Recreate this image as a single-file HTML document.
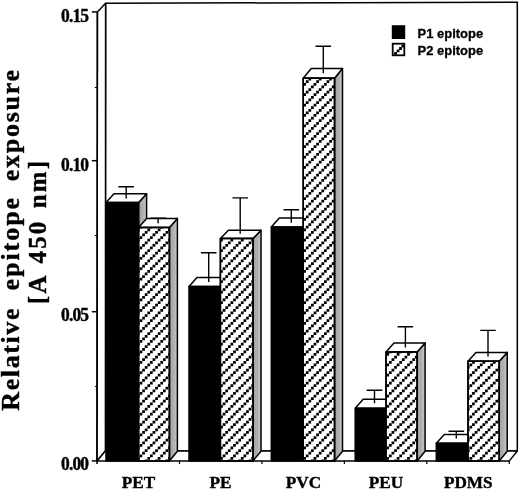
<!DOCTYPE html>
<html><head><meta charset="utf-8"><title>Relative epitope exposure</title>
<style>html,body{margin:0;padding:0;background:#fff}body{width:520px;height:490px;overflow:hidden}svg{display:block}.s{font-family:"Liberation Serif",serif;font-weight:bold;fill:#000;stroke:#000;stroke-width:0.4px;stroke-linejoin:round}.h{font-family:"Liberation Sans",sans-serif;font-weight:bold;fill:#000;stroke:#000;stroke-width:0.3px}</style></head><body>
<svg width="520" height="490" viewBox="0 0 520 490">
<defs><clipPath id="hc">
<rect x="138.6" y="227.4" width="30.8" height="233.5"/>
<rect x="220.4" y="238.6" width="32.6" height="222.3"/>
<rect x="303.2" y="78.2" width="31.3" height="382.7"/>
<rect x="386.0" y="352.0" width="31.1" height="108.9"/>
<rect x="468.0" y="361.2" width="31.2" height="99.7"/>
</clipPath><linearGradient id="sg" x1="0" y1="0" x2="1" y2="0"><stop offset="0" stop-color="#a2a2a2"/><stop offset="0.55" stop-color="#b0b0b0"/><stop offset="1" stop-color="#cacaca"/></linearGradient></defs>
<rect width="520" height="490" fill="#fff"/>
<g fill="none" stroke="#000" stroke-width="1.5" stroke-linejoin="round">
<path d="M105.4 451.0 L105.6 3.2 L517.3 2.3 L517.3 451.0 Z" fill="#fff"/>
<path d="M97.4 11.9 L105.6 3.2 L105.4 451.0 L97.0 460.9 Z" fill="#fff"/>
<path d="M97.0 460.9 L105.4 451.0 L517.3 451.0 L509.3 460.9 Z" fill="#fff"/>
<path d="M97.4 11.9 L97.0 464.1"/>
<path d="M179.5 460.9 V464.1" stroke-width="1.2"/>
<path d="M261.9 460.9 V464.1" stroke-width="1.2"/>
<path d="M344.4 460.9 V464.1" stroke-width="1.2"/>
<path d="M426.8 460.9 V464.1" stroke-width="1.2"/>
<path d="M509.3 460.9 V464.1" stroke-width="1.2"/>
<path d="M91.8 460.9 H97.0"/>
<path d="M91.8 311.7 H97.0"/>
<path d="M91.8 160.7 H97.0"/>
<path d="M91.8 11.9 H97.0"/>
<path d="M94.8 386.4 H97.0" stroke-width="1"/>
<path d="M94.8 235.5 H97.0" stroke-width="1"/>
<path d="M94.8 87.5 H97.0" stroke-width="1"/>
<path d="M138.6 202.6 L146.6 193.8 L146.6 451.3 L138.6 460.9 Z" fill="url(#sg)"/>
<path d="M106.0 202.6 L114.0 193.8 L146.6 193.8 L138.6 202.6 Z" fill="#fff"/>
<rect x="106.0" y="202.6" width="32.6" height="258.3" fill="#000"/>
<path d="M169.4 227.4 L177.4 218.4 L177.4 451.3 L169.4 460.9 Z" fill="url(#sg)"/>
<path d="M138.6 227.4 L146.6 218.4 L177.4 218.4 L169.4 227.4 Z" fill="#fff"/>
<rect x="138.6" y="227.4" width="30.8" height="233.5" fill="#fff"/>
<path d="M220.4 286.6 L228.4 277.6 L228.4 451.3 L220.4 460.9 Z" fill="url(#sg)"/>
<path d="M189.0 286.6 L197.0 277.6 L228.4 277.6 L220.4 286.6 Z" fill="#fff"/>
<rect x="189.0" y="286.6" width="31.4" height="174.3" fill="#000"/>
<path d="M253.0 238.6 L261.0 230.2 L261.0 451.3 L253.0 460.9 Z" fill="url(#sg)"/>
<path d="M220.4 238.6 L228.4 230.2 L261.0 230.2 L253.0 238.6 Z" fill="#fff"/>
<rect x="220.4" y="238.6" width="32.6" height="222.3" fill="#fff"/>
<path d="M303.2 226.9 L311.2 217.9 L311.2 451.3 L303.2 460.9 Z" fill="url(#sg)"/>
<path d="M271.3 226.9 L279.3 217.9 L311.2 217.9 L303.2 226.9 Z" fill="#fff"/>
<rect x="271.3" y="226.9" width="31.9" height="234.0" fill="#000"/>
<path d="M334.5 78.2 L342.5 68.5 L342.5 451.3 L334.5 460.9 Z" fill="url(#sg)"/>
<path d="M303.2 78.2 L311.2 68.5 L342.5 68.5 L334.5 78.2 Z" fill="#fff"/>
<rect x="303.2" y="78.2" width="31.3" height="382.7" fill="#fff"/>
<path d="M386.0 408.2 L394.0 399.2 L394.0 451.3 L386.0 460.9 Z" fill="url(#sg)"/>
<path d="M355.2 408.2 L363.2 399.2 L394.0 399.2 L386.0 408.2 Z" fill="#fff"/>
<rect x="355.2" y="408.2" width="30.8" height="52.7" fill="#000"/>
<path d="M417.1 352.0 L425.1 343.0 L425.1 451.3 L417.1 460.9 Z" fill="url(#sg)"/>
<path d="M386.0 352.0 L394.0 343.0 L425.1 343.0 L417.1 352.0 Z" fill="#fff"/>
<rect x="386.0" y="352.0" width="31.1" height="108.9" fill="#fff"/>
<path d="M468.0 443.3 L476.0 434.6 L476.0 451.3 L468.0 460.9 Z" fill="url(#sg)"/>
<path d="M436.3 443.3 L444.3 434.6 L476.0 434.6 L468.0 443.3 Z" fill="#fff"/>
<rect x="436.3" y="443.3" width="31.7" height="17.6" fill="#000"/>
<path d="M499.2 361.2 L507.2 352.4 L507.2 451.3 L499.2 460.9 Z" fill="url(#sg)"/>
<path d="M468.0 361.2 L476.0 352.4 L507.2 352.4 L499.2 361.2 Z" fill="#fff"/>
<rect x="468.0" y="361.2" width="31.2" height="99.7" fill="#fff"/>
<path clip-path="url(#hc)" d="M95.42 63.54H505M95.42 73.93H505M95.42 84.32H505M95.42 94.71H505M95.42 105.10H505M95.42 115.49H505M95.42 125.88H505M95.42 136.27H505M95.42 146.66H505M95.42 157.05H505M95.42 167.44H505M95.42 177.83H505M95.42 188.22H505M95.42 198.61H505M95.42 209.00H505M95.42 219.39H505M95.42 229.78H505M95.42 240.17H505M95.42 250.56H505M95.42 260.95H505M95.42 271.34H505M95.42 281.73H505M95.42 292.12H505M95.42 302.51H505M95.42 312.90H505M95.42 323.29H505M95.42 333.68H505M95.42 344.07H505M95.42 354.46H505M95.42 364.85H505M95.42 375.24H505M95.42 385.63H505M95.42 396.02H505M95.42 406.41H505M95.42 416.80H505M95.42 427.19H505M95.42 437.58H505M95.42 447.97H505M95.42 458.36H505M95.42 468.75H505" stroke-width="2.75" stroke-dasharray="2.750 7.640"/>
<path clip-path="url(#hc)" d="M92.83 66.14H505M92.83 76.53H505M92.83 86.92H505M92.83 97.31H505M92.83 107.70H505M92.83 118.09H505M92.83 128.48H505M92.83 138.87H505M92.83 149.26H505M92.83 159.65H505M92.83 170.04H505M92.83 180.43H505M92.83 190.82H505M92.83 201.21H505M92.83 211.60H505M92.83 221.99H505M92.83 232.38H505M92.83 242.77H505M92.83 253.16H505M92.83 263.55H505M92.83 273.94H505M92.83 284.33H505M92.83 294.72H505M92.83 305.11H505M92.83 315.50H505M92.83 325.89H505M92.83 336.28H505M92.83 346.67H505M92.83 357.06H505M92.83 367.45H505M92.83 377.84H505M92.83 388.23H505M92.83 398.62H505M92.83 409.01H505M92.83 419.40H505M92.83 429.79H505M92.83 440.18H505M92.83 450.57H505M92.83 460.96H505M92.83 471.35H505" stroke-width="2.75" stroke-dasharray="2.750 7.640"/>
<path clip-path="url(#hc)" d="M90.23 68.73H505M90.23 79.12H505M90.23 89.51H505M90.23 99.90H505M90.23 110.29H505M90.23 120.68H505M90.23 131.07H505M90.23 141.46H505M90.23 151.85H505M90.23 162.24H505M90.23 172.63H505M90.23 183.02H505M90.23 193.41H505M90.23 203.80H505M90.23 214.19H505M90.23 224.58H505M90.23 234.97H505M90.23 245.36H505M90.23 255.75H505M90.23 266.14H505M90.23 276.53H505M90.23 286.92H505M90.23 297.31H505M90.23 307.70H505M90.23 318.09H505M90.23 328.48H505M90.23 338.88H505M90.23 349.26H505M90.23 359.65H505M90.23 370.04H505M90.23 380.43H505M90.23 390.82H505M90.23 401.21H505M90.23 411.60H505M90.23 422.00H505M90.23 432.38H505M90.23 442.77H505M90.23 453.16H505M90.23 463.55H505M90.23 473.94H505" stroke-width="2.75" stroke-dasharray="2.750 7.640"/>
<path clip-path="url(#hc)" d="M87.63 60.94H505M87.63 71.33H505M87.63 81.72H505M87.63 92.11H505M87.63 102.50H505M87.63 112.89H505M87.63 123.28H505M87.63 133.67H505M87.63 144.06H505M87.63 154.45H505M87.63 164.84H505M87.63 175.23H505M87.63 185.62H505M87.63 196.01H505M87.63 206.40H505M87.63 216.79H505M87.63 227.18H505M87.63 237.57H505M87.63 247.96H505M87.63 258.35H505M87.63 268.74H505M87.63 279.13H505M87.63 289.52H505M87.63 299.91H505M87.63 310.30H505M87.63 320.69H505M87.63 331.08H505M87.63 341.47H505M87.63 351.86H505M87.63 362.25H505M87.63 372.64H505M87.63 383.03H505M87.63 393.42H505M87.63 403.81H505M87.63 414.20H505M87.63 424.59H505M87.63 434.98H505M87.63 445.37H505M87.63 455.76H505M87.63 466.15H505" stroke-width="2.75" stroke-dasharray="2.750 7.640"/>
<rect x="138.6" y="227.4" width="30.8" height="233.5"/>
<rect x="220.4" y="238.6" width="32.6" height="222.3"/>
<rect x="303.2" y="78.2" width="31.3" height="382.7"/>
<rect x="386.0" y="352.0" width="31.1" height="108.9"/>
<rect x="468.0" y="361.2" width="31.2" height="99.7"/>
<path d="M126.2 198.5 V186.7 M118.4 186.7 H134.0" stroke-width="1.4"/>
<path d="M158.1 223.2 V218.1 M150.3 218.1 H165.9" stroke-width="1.4"/>
<path d="M208.7 282.0 V252.8 M200.9 252.8 H216.5" stroke-width="1.4"/>
<path d="M240.2 233.8 V197.9 M232.4 197.9 H248.0" stroke-width="1.4"/>
<path d="M291.3 222.7 V209.8 M283.5 209.8 H299.1" stroke-width="1.4"/>
<path d="M323.3 73.3 V46.3 M315.5 46.3 H331.1" stroke-width="1.4"/>
<path d="M374.5 403.3 V390.2 M366.7 390.2 H382.3" stroke-width="1.4"/>
<path d="M405.4 347.6 V326.7 M397.6 326.7 H413.2" stroke-width="1.4"/>
<path d="M456.3 438.6 V431.2 M448.5 431.2 H464.1" stroke-width="1.4"/>
<path d="M488.0 356.6 V330.4 M480.2 330.4 H495.8" stroke-width="1.4"/>
</g>
<rect x="391.8" y="25.2" width="13.4" height="13.8" fill="#000"/>
<rect x="392.7" y="43.7" width="11.6" height="11.6" fill="#fff" stroke="#000" stroke-width="1.8"/>
<rect x="394.20" y="52.00" width="2.8" height="2.8" rx="0.5" fill="#000"/>
<rect x="396.65" y="49.55" width="2.8" height="2.8" rx="0.5" fill="#000"/>
<rect x="399.10" y="47.10" width="2.8" height="2.8" rx="0.5" fill="#000"/>
<rect x="401.55" y="44.65" width="2.8" height="2.8" rx="0.5" fill="#000"/>
<text class="h" x="417.6" y="38.0" font-size="13" textLength="65.6" lengthAdjust="spacingAndGlyphs">P1 epitope</text>
<text class="h" x="417.6" y="54.6" font-size="13" textLength="65.6" lengthAdjust="spacingAndGlyphs">P2 epitope</text>
<text class="s" transform="translate(89.1 21.5) scale(0.92 1)" x="0" y="0" font-size="19" text-anchor="end" textLength="30.6" lengthAdjust="spacing">0.15</text>
<text class="s" transform="translate(89.1 170.5) scale(0.92 1)" x="0" y="0" font-size="19" text-anchor="end" textLength="30.6" lengthAdjust="spacing">0.10</text>
<text class="s" transform="translate(89.1 321.0) scale(0.92 1)" x="0" y="0" font-size="19" text-anchor="end" textLength="30.6" lengthAdjust="spacing">0.05</text>
<text class="s" transform="translate(89.1 470.3) scale(0.92 1)" x="0" y="0" font-size="19" text-anchor="end" textLength="30.6" lengthAdjust="spacing">0.00</text>
<text class="s" x="138.5" y="488.2" font-size="17.2" text-anchor="middle">PET</text>
<text class="s" x="220.5" y="488.2" font-size="17.2" text-anchor="middle">PE</text>
<text class="s" x="303.5" y="488.2" font-size="17.2" text-anchor="middle">PVC</text>
<text class="s" x="386.0" y="488.2" font-size="17.2" text-anchor="middle">PEU</text>
<text class="s" x="468.3" y="488.2" font-size="17.2" text-anchor="middle">PDMS</text>
<g transform="rotate(-90)">
<text class="s" x="-410.7" y="19.3" font-size="26" textLength="102.2" lengthAdjust="spacing">Relative</text>
<text class="s" x="-290.5" y="19.3" font-size="26" textLength="92.6" lengthAdjust="spacing">epitope</text>
<text class="s" x="-181.2" y="19.3" font-size="26" textLength="111.3" lengthAdjust="spacing">exposure</text>
<text class="s" x="-304.0" y="46" font-size="24.8" letter-spacing="2.2" word-spacing="3">[A 450 nm]</text>
</g>
</svg></body></html>
